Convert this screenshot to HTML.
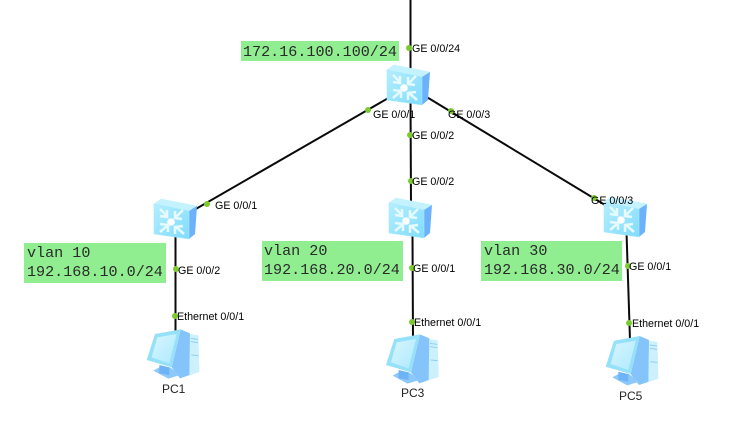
<!DOCTYPE html>
<html><head><meta charset="utf-8"><style>
html,body{margin:0;padding:0;background:#fff}
svg{display:block}
.l{font:10.7px "Liberation Sans",sans-serif;fill:#000}
.p{font:12px "Liberation Sans",sans-serif;fill:#222}
.m{font:15.1px "Liberation Mono",monospace;fill:#2a2a2a}
</style></head><body>
<svg width="735" height="422" viewBox="0 0 735 422" xmlns="http://www.w3.org/2000/svg">
<defs>
<linearGradient id="f" x1="0" y1="0" x2="1" y2="1"><stop offset="0" stop-color="#b4eeff"/><stop offset="1" stop-color="#80dcfd"/></linearGradient>
<linearGradient id="s" x1="0" y1="0" x2="1" y2="1"><stop offset="0" stop-color="#d8f6ff"/><stop offset="1" stop-color="#aee9fd"/></linearGradient>
<g id="sw">
<polygon points="1,5 8,0 44,7 36,12" fill="#c4f2ff" stroke="#c4f2ff" stroke-width=".6" stroke-linejoin="round"/>
<polygon points="36,12 44,7 42,35 36,40" fill="#6cb2fb"/>
<polygon points="1,5 36,12 36,40 1,35" fill="url(#f)" stroke="#a5e9ff" stroke-width=".6" stroke-linejoin="round"/>
<circle cx="18" cy="23" r="3.8" fill="#fff"/>
<g stroke="#e6faff" stroke-width="2.500" fill="none">
<path d="M7,10 L14,17 M7,17 L14,18 L14,11"/>
<path d="M30,11 L23,18 M22,12 L22,19 L29,20"/>
<path d="M7,33 L14,27 M7,25 L15,26 L15,33"/>
<path d="M31,35 L23,28 M22,35 L22,28 L30,27"/>
</g>
</g>
<g id="pc">
<polygon points="150,70 205,76 208,186 150,205" fill="#c6eefc"/>
<polygon points="178,72 205,76 208,186 180,195" fill="#cdf1fc"/>
<g stroke="#8fd0ee" stroke-width="3"><path d="M182,85 L204,88 M182,95 L204,98 M184,135 L205,137"/></g>
<polygon points="152,58 180,70 178,195 150,205 125,172" fill="#85c4fa"/>
<polygon points="70,182 88,172 120,172 150,195 115,206" fill="#8cc9fa"/>
<polygon points="88,165 118,172 118,195 88,190" fill="#6fb3f7"/>
<polygon points="75,72 152,58 125,172 50,150" fill="#96e1fa"/>
<polygon points="82,82 140,72 118,160 65,142" fill="url(#s)"/>
</g>
</defs>
<g stroke="#0a0a0a" stroke-width="2" fill="none">
<line x1="410.500" y1="0" x2="410.500" y2="70"/>
<line x1="404" y1="89" x2="175" y2="221"/>
<line x1="410.500" y1="95" x2="411" y2="205"/>
<line x1="425" y1="96" x2="610" y2="208"/>
<line x1="175.500" y1="235" x2="175.500" y2="335"/>
<line x1="412.500" y1="235" x2="413" y2="340"/>
<line x1="626.500" y1="232" x2="630" y2="340"/>
</g>
<rect x="241" y="41" width="158" height="20" fill="#90ee90"/>
<rect x="24" y="243" width="142" height="40" fill="#90ee90"/>
<rect x="262" y="241" width="141" height="40" fill="#90ee90"/>
<rect x="481" y="241" width="141" height="40" fill="#90ee90"/>
<text class="m" x="243" y="56">172.16.100.100/24</text>
<text class="m" x="27" y="257">vlan 10</text><text class="m" x="27" y="276">192.168.10.0/24</text>
<text class="m" x="264" y="255">vlan 20</text><text class="m" x="264" y="274">192.168.20.0/24</text>
<text class="m" x="484" y="255">vlan 30</text><text class="m" x="484" y="274">192.168.30.0/24</text>
<use href="#sw" x="386" y="65"/>
<use href="#sw" x="153" y="199"/>
<use href="#sw" x="388" y="198"/>
<use href="#sw" x="603" y="197"/>
<use href="#pc" transform="translate(130,310) scale(.3333)"/>
<use href="#pc" transform="translate(369.300,315) scale(.3333)"/>
<use href="#pc" transform="translate(589,316.700) scale(.3333)"/>
<g fill="#7ccb2e">
<circle cx="409" cy="48" r="3"/><circle cx="368" cy="110" r="3"/><circle cx="410" cy="135" r="3"/><circle cx="451" cy="111" r="3"/>
<circle cx="207" cy="204" r="3"/><circle cx="411" cy="181" r="3"/><circle cx="594" cy="198" r="3"/>
<circle cx="176" cy="269" r="3"/><circle cx="412" cy="268" r="3"/><circle cx="628" cy="266" r="3"/>
<circle cx="175" cy="316" r="3"/><circle cx="412" cy="322" r="3"/><circle cx="629" cy="323" r="3"/>
</g>
<g class="l">
<text class="l" x="412" y="52">GE 0/0/24</text>
<text class="l" x="373" y="118">GE 0/0/1</text>
<text class="l" x="412" y="139">GE 0/0/2</text>
<text class="l" x="448" y="118">GE 0/0/3</text>
<text class="l" x="215" y="209">GE 0/0/1</text>
<text class="l" x="412" y="185">GE 0/0/2</text>
<text class="l" x="591" y="204">GE 0/0/3</text>
<text class="l" x="178" y="274">GE 0/0/2</text>
<text class="l" x="413" y="272">GE 0/0/1</text>
<text class="l" x="629" y="270">GE 0/0/1</text>
<text class="l" x="177" y="320">Ethernet 0/0/1</text>
<text class="l" x="414" y="326">Ethernet 0/0/1</text>
<text class="l" x="632" y="327">Ethernet 0/0/1</text>
</g>
<text class="p" x="162" y="393">PC1</text>
<text class="p" x="401" y="397">PC3</text>
<text class="p" x="619" y="400">PC5</text>
</svg>
</body></html>
